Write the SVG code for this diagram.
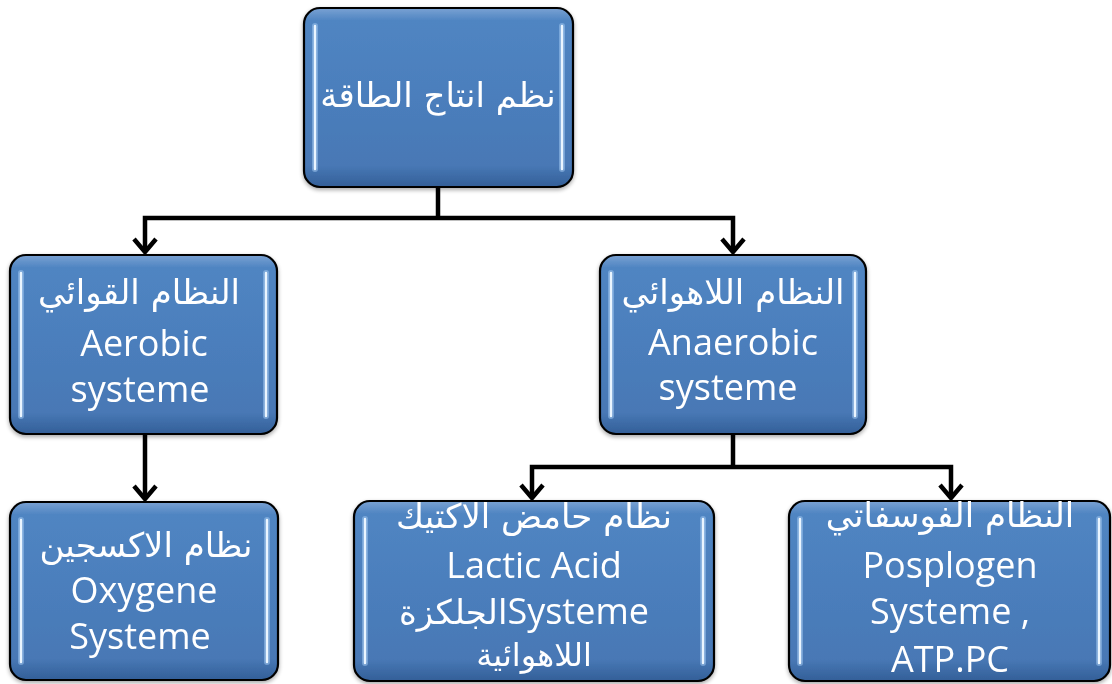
<svg xmlns="http://www.w3.org/2000/svg" width="1112" height="684" viewBox="0 0 1112 684">
<style>
.box{fill:url(#g);stroke:#000;stroke-width:2.2}
.glow{stroke:#9cc4ef;stroke-width:6;stroke-linecap:round;opacity:.55;fill:none}
.hl{stroke:#eaf5ff;stroke-width:2.4;stroke-linecap:round;fill:none}
.t{fill:#fff;font-family:"Open Sans","DejaVu Sans",sans-serif;font-size:36px;text-anchor:middle}
.ar{font-family:"DejaVu Sans","Noto Sans",sans-serif;font-size:34px}
.c{fill:none;stroke:#000;stroke-width:4.5;stroke-linejoin:miter}
.ah{fill:none;stroke:#000;stroke-width:4.5;stroke-linejoin:miter}
</style>
<defs>
<linearGradient id="g" x1="0" y1="0" x2="0" y2="1">
<stop offset="0" stop-color="#7aa2d3"/>
<stop offset="0.07" stop-color="#5085c2"/>
<stop offset="0.5" stop-color="#4b7ebc"/>
<stop offset="0.88" stop-color="#4878b5"/>
<stop offset="1" stop-color="#335f98"/>
</linearGradient>
<filter id="sh" x="-5%" y="-5%" width="110%" height="115%">
<feGaussianBlur in="SourceAlpha" stdDeviation="2"/>
<feOffset dx="0" dy="2" result="b"/>
<feComponentTransfer><feFuncA type="linear" slope="0.35"/></feComponentTransfer>
<feMerge><feMergeNode/><feMergeNode in="SourceGraphic"/></feMerge>
</filter>
</defs>
<rect width="1112" height="684" fill="#fff"/>

<g id="connectors">
<path class="c" d="M438,187V218"/>
<path class="c" d="M145,252V218H733V252"/>
<path class="c" d="M145,434V499"/>
<path class="c" d="M733,434V467"/>
<path class="c" d="M532,498V467H951V498"/>
<polyline class="ah" points="134,239 145,252 156,239"/>
<polyline class="ah" points="722,239 733,252 744,239"/>
<polyline class="ah" points="134,486 145,499 156,486"/>
<polyline class="ah" points="521,485 532,498 543,485"/>
<polyline class="ah" points="940,485 951,498 962,485"/>
</g>

<g id="n-top" filter="url(#sh)">
<rect class="box" x="304" y="8" width="269" height="179" rx="16"/>
<path class="glow" d="M315,26V169M562,26V169"/>
<path class="hl" d="M315,26V169M562,26V169"/>
<text class="t ar" x="438" y="107">نظم انتاج الطاقة</text>
</g>

<g id="n-aerobic" filter="url(#sh)">
<rect class="box" x="10" y="255" width="267" height="179" rx="16"/>
<path class="glow" d="M21,273V416M266,273V416"/>
<path class="hl" d="M21,273V416M266,273V416"/>
<text class="t ar" x="139" y="304">النظام القوائي</text>
<text class="t" x="144" y="356">Aerobic</text>
<text class="t" x="140" y="402">systeme</text>
</g>

<g id="n-anaerobic" filter="url(#sh)">
<rect class="box" x="600" y="255" width="266" height="179" rx="16"/>
<path class="glow" d="M611,273V416M855,273V416"/>
<path class="hl" d="M611,273V416M855,273V416"/>
<text class="t ar" x="733" y="304">النظام اللاهوائي</text>
<text class="t" x="733" y="355">Anaerobic</text>
<text class="t" x="728" y="400">systeme</text>
</g>

<g id="n-oxygene" filter="url(#sh)">
<rect class="box" x="10" y="502" width="268" height="178" rx="16"/>
<path class="glow" d="M21,520V662M267,520V662"/>
<path class="hl" d="M21,520V662M267,520V662"/>
<text class="t ar" x="146" y="557">نظام الاكسجين</text>
<text class="t" x="144" y="603">Oxygene</text>
<text class="t" x="140" y="649">Systeme</text>
</g>

<g id="n-lactic" filter="url(#sh)">
<rect class="box" x="354" y="501" width="360" height="180" rx="16"/>
<path class="glow" d="M365,519V663M703,519V663"/>
<path class="hl" d="M365,519V663M703,519V663"/>
<text class="t ar" x="534" y="528">نظام حامض الاكتيك</text>
<text class="t" x="534" y="578">Lactic Acid</text>
<text class="t" x="524" y="624"><tspan class="ar">الجلكزة</tspan>Systeme</text>
<text class="t ar" x="534" y="666" style="font-size:32px">اللاهوائية</text>
</g>

<g id="n-posplogen" filter="url(#sh)">
<rect class="box" x="789" y="501" width="321" height="180" rx="16"/>
<path class="glow" d="M800,519V663M1099,519V663"/>
<path class="hl" d="M800,519V663M1099,519V663"/>
<text class="t ar" x="950" y="527">النظام الفوسفاتي</text>
<text class="t" x="950" y="578">Posplogen</text>
<text class="t" x="950" y="624">Systeme ,</text>
<text class="t" x="950" y="672">ATP.PC</text>
</g>
</svg>
